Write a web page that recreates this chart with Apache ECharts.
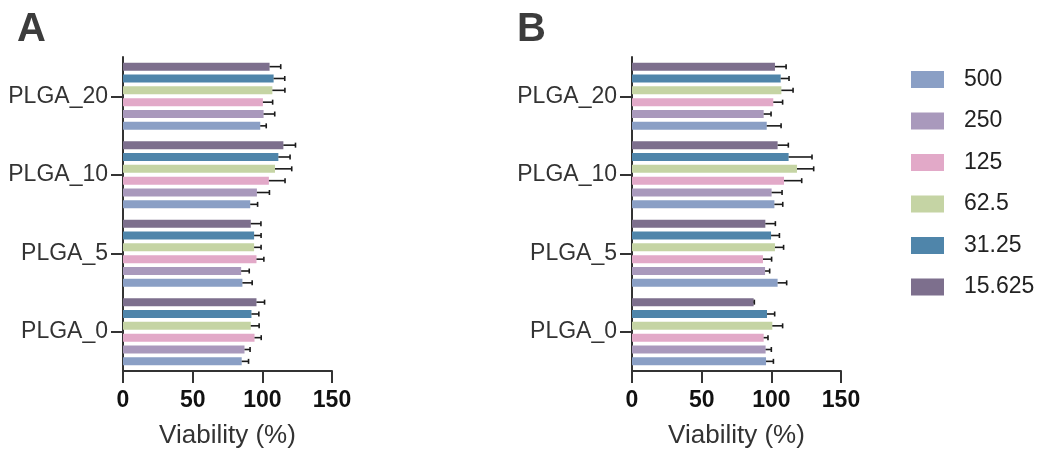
<!DOCTYPE html>
<html>
<head>
<meta charset="utf-8">
<script src="https://cdn.jsdelivr.net/npm/echarts@6/dist/echarts.min.js"></script>
<style>
  html, body { margin: 0; padding: 0; background: #fff; }
  #chart { width: 1050px; height: 461px; }
</style>
</head>
<body>
<div id="chart"></div>
<script>
// Categories, bottom to top on the y axis
const categories = ['PLGA_0', 'PLGA_5', 'PLGA_10', 'PLGA_20'];
// Concentrations, top bar to bottom bar inside each group
const concentrations = ['15.625', '31.25', '62.5', '125', '250', '500'];
const legendOrder = ['500', '250', '125', '62.5', '31.25', '15.625'];
const colors = ['#7d6f8d', '#4f85aa', '#c5d4a4', '#e2a9c8', '#a999bc', '#8a9fc5'];

// Panel A (values per category: PLGA_0, PLGA_5, PLGA_10, PLGA_20)
const a15625 = [95.8, 91.7, 115.1, 105.2];
const a3125 = [92.2, 94.1, 111.5, 108.1];
const a625 = [91.7, 94.1, 109.1, 107.2];
const a125 = [94.4, 95.8, 104.7, 100.4];
const a250 = [87.2, 84.8, 96.1, 100.9];
const a500 = [85.2, 85.7, 91.3, 98.5];
const a15625Err = [5.8, 7.3, 8.7, 8];
const a3125Err = [5.3, 5, 8.4, 8];
const a625Err = [6, 5, 12, 9];
const a125Err = [4.8, 5.3, 11.6, 7];
const a250Err = [4, 5.8, 9, 8];
const a500Err = [4.9, 7, 5.3, 4.3];

// Panel B
const b15625 = [87.3, 95.7, 104.5, 102.6];
const b3125 = [96.9, 99.8, 112.4, 106.7];
const b625 = [100.7, 102.6, 118.4, 107.2];
const b125 = [94.5, 94, 109.1, 101.4];
const b250 = [95.9, 95.5, 100.2, 94.5];
const b500 = [96.2, 104.5, 102.2, 96.7];
const b15625Err = [0.5, 7.2, 7.7, 8];
const b3125Err = [5.5, 6, 16.8, 6];
const b625Err = [7.4, 6.2, 12, 8.4];
const b125Err = [3.1, 6.2, 12.7, 6.7];
const b250Err = [4.1, 3.3, 7.5, 5.3];
const b500Err = [5.3, 6.5, 6, 10.3];

const panelA = [a15625, a3125, a625, a125, a250, a500];
const panelAErr = [a15625Err, a3125Err, a625Err, a125Err, a250Err, a500Err];
const panelB = [b15625, b3125, b625, b125, b250, b500];
const panelBErr = [b15625Err, b3125Err, b625Err, b125Err, b250Err, b500Err];

const BAR_W = 8;
const BAR_GAP = 0.48;
const PITCH = BAR_W * (1 + BAR_GAP);
const FONT = '"Liberation Sans", Arial, Helvetica, sans-serif';

// error bar: line from bar end to value + err, small cap at the end
function renderErr(params, api) {
  const v = api.value(0);
  const cat = api.value(1);
  const e = api.value(2);
  const k = api.value(3);
  const p0 = api.coord([v, cat]);
  const p1 = api.coord([v + e, cat]);
  const y = p0[1] + (k - (concentrations.length - 1) / 2) * PITCH;
  const style = { stroke: '#1a1a1a', lineWidth: 1.6 };
  return {
    type: 'group',
    children: [
      { type: 'line', shape: { x1: p0[0], y1: y, x2: p1[0], y2: y }, style },
      { type: 'line', shape: { x1: p1[0], y1: y - 2.5, x2: p1[0], y2: y + 2.5 }, style },
    ],
  };
}

function panelSeries(values, errs, idx) {
  const out = concentrations.map((name, k) => ({
    name,
    type: 'bar',
    xAxisIndex: idx,
    yAxisIndex: idx,
    barWidth: BAR_W,
    barGap: (BAR_GAP * 100) + '%',
    itemStyle: { color: colors[k] },
    data: values[k],
  }));
  const errData = [];
  concentrations.forEach((name, k) => {
    categories.forEach((c, ci) => {
      errData.push([values[k][ci], ci, errs[k][ci], k]);
    });
  });
  out.push({
    type: 'custom',
    xAxisIndex: idx,
    yAxisIndex: idx,
    renderItem: renderErr,
    encode: { x: 0, y: 1 },
    data: errData,
    z: 5,
    silent: true,
  });
  return out;
}

function xAxis(idx) {
  return {
    type: 'value',
    gridIndex: idx,
    min: 0,
    max: 150,
    interval: 50,
    splitLine: { show: false },
    axisLine: { show: true, lineStyle: { color: '#333', width: 2 } },
    axisTick: { show: true, length: 12, lineStyle: { color: '#333', width: 2 } },
    axisLabel: { fontFamily: FONT, fontSize: 23, fontWeight: 'bold', color: '#111', margin: 18 },
    name: 'Viability (%)',
    nameLocation: 'middle',
    nameGap: 52,
    nameTextStyle: { fontFamily: FONT, fontSize: 26, color: '#333' },
  };
}

function yAxis(idx) {
  return {
    type: 'category',
    gridIndex: idx,
    data: categories,
    axisLine: { show: true, lineStyle: { color: '#333', width: 2 } },
    axisTick: { show: true, alignWithLabel: true, length: 12, lineStyle: { color: '#333', width: 2 } },
    axisLabel: { fontFamily: FONT, fontSize: 23, color: '#333', margin: 15 },
  };
}

const chart = echarts.init(document.getElementById('chart'));
chart.setOption({
  animation: false,
  color: colors,
  grid: [
    { left: 123, top: 57, width: 209, height: 314, outerBoundsMode: 'none' },
    { left: 632, top: 57, width: 209, height: 314, outerBoundsMode: 'none' },
  ],
  xAxis: [xAxis(0), xAxis(1)],
  yAxis: [yAxis(0), yAxis(1)],
  legend: {
    orient: 'vertical',
    left: 911,
    top: 68,
    padding: 0,
    data: legendOrder,
    icon: 'rect',
    itemWidth: 33,
    itemHeight: 17,
    itemGap: 18.5,
    textStyle: { fontFamily: FONT, fontSize: 23, color: '#222', lineHeight: 17, padding: [0, 0, 0, 15] },
  },
  graphic: [
    { type: 'text', left: 17, top: 10, style: { text: 'A', font: 'bold 40px ' + FONT, fill: '#3c3c3c' } },
    { type: 'text', left: 517, top: 10, style: { text: 'B', font: 'bold 40px ' + FONT, fill: '#3c3c3c' } },
  ],
  series: [...panelSeries(panelA, panelAErr, 0), ...panelSeries(panelB, panelBErr, 1)],
});
</script>
</body>
</html>
